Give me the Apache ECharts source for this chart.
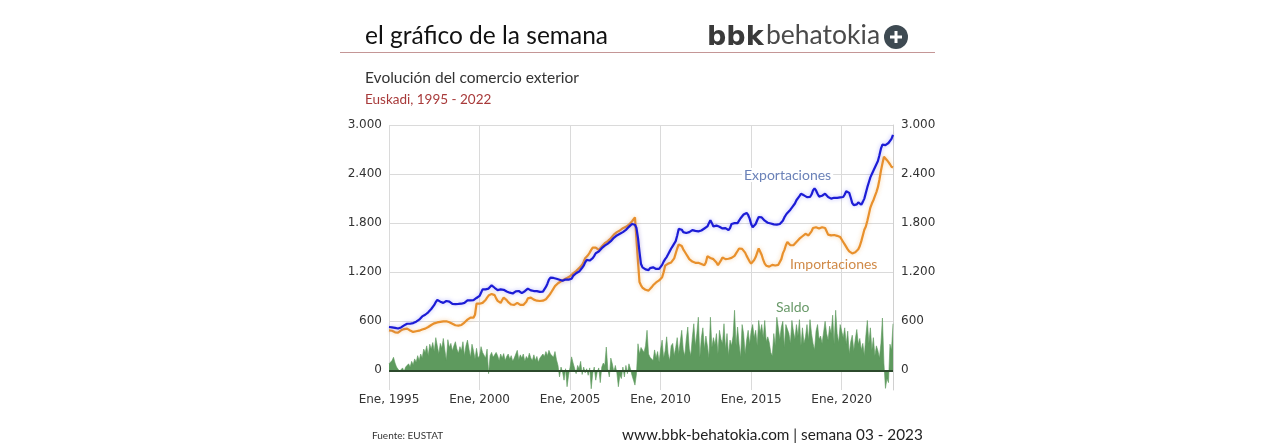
<!DOCTYPE html>
<html>
<head>
<meta charset="utf-8">
<script src="https://cdn.jsdelivr.net/npm/echarts@6/dist/echarts.min.js"></script>
<style>
html,body{margin:0;padding:0;background:#fff;}
#chart{width:1276px;height:447px;}
</style>
</head>
<body>
<div id="chart"></div>
<script>
// ---- Data (monthly, Jan 1995 - Nov 2022, millones €) ----
const years = [1995,1996,1997,1998,1999,2000,2001,2002,2003,2004,2005,2006,2007,2008,2009,2010,2011,2012,2013,2014,2015,2016,2017,2018,2019,2020,2021,2022];
const monthNames = ['Ene','Feb','Mar','Abr','May','Jun','Jul','Ago','Sep','Oct','Nov','Dic'];
const lastYearMonths = 11;

const exportaciones = [
  530,528,525,522,520,515,512,515,525,535,550,565,        // 1995
  570,570,570,572,578,585,595,605,620,640,660,675,        // 1996
  680,695,710,730,750,770,800,835,862,855,840,830,        // 1997
  825,835,848,850,840,825,812,808,810,812,812,815,        // 1998
  815,818,825,840,855,858,855,852,858,870,885,895,        // 1999
  910,950,990,992,990,992,1000,1020,1040,1035,1010,990,   // 2000
  982,985,990,990,985,975,965,958,950,942,940,950,        // 2001
  965,978,970,955,945,950,968,990,1000,990,978,972,       // 2002
  970,970,968,965,960,958,962,985,1020,1060,1110,1135,    // 2003
  1135,1130,1125,1120,1115,1108,1100,1095,1100,1110,1112,1110, // 2004
  1106,1120,1155,1170,1188,1200,1208,1230,1255,1280,1320,1350, // 2005
  1345,1343,1360,1371,1400,1433,1445,1453,1470,1494,1510,1525, // 2006
  1535,1550,1565,1580,1596,1620,1637,1650,1660,1670,1677,1690, // 2007
  1705,1718,1735,1755,1775,1790,1795,1780,1740,1620,1450,1300, // 2008
  1260,1249,1235,1220,1225,1250,1270,1260,1250,1240,1229,1240, // 2009
  1265,1290,1330,1360,1385,1420,1455,1490,1520,1550,1580,1650, // 2010
  1730,1750,1720,1690,1680,1680,1685,1690,1700,1715,1710,1705, // 2011
  1705,1700,1700,1710,1720,1735,1745,1760,1800,1835,1800,1760, // 2012
  1760,1770,1760,1755,1740,1735,1745,1740,1725,1715,1740,1790, // 2013
  1795,1800,1795,1800,1830,1860,1880,1905,1925,1925,1900,1855, // 2014
  1790,1750,1760,1790,1835,1875,1885,1870,1850,1830,1815,1805, // 2015
  1800,1795,1790,1785,1785,1782,1785,1790,1800,1830,1870,1900, // 2016
  1925,1940,1965,1990,2000,2040,2080,2100,2130,2160,2155,2140, // 2017
  2120,2118,2115,2120,2150,2200,2225,2200,2160,2125,2115,2135, // 2018
  2155,2160,2150,2120,2100,2100,2105,2110,2115,2110,2112,2115, // 2019
  2115,2120,2150,2190,2204,2170,2110,2045,2020,2005,2030,2055, // 2020
  2040,2025,2060,2100,2170,2240,2300,2360,2400,2440,2480,2520, // 2021
  2560,2630,2710,2760,2765,2755,2760,2780,2790,2830,2880       // 2022
];

const importaciones = [
  490,488,484,475,465,457,462,475,490,500,505,510,        // 1995
  510,500,488,475,470,472,478,480,485,492,500,505,        // 1996
  510,518,530,542,555,568,575,580,586,590,592,595,        // 1997
  598,600,600,595,588,580,570,560,552,548,548,550,        // 1998
  555,568,585,600,620,640,645,645,645,680,815,815,        // 1999
  815,818,825,835,860,890,915,925,935,940,920,880,        // 2000
  850,830,825,860,890,880,860,835,820,805,795,800,        // 2001
  815,825,815,800,795,800,810,840,880,900,890,875,        // 2002
  865,858,852,850,848,850,852,858,870,890,915,940,        // 2003
  960,1000,1030,1050,1065,1080,1090,1100,1110,1120,1130,1140, // 2004
  1150,1170,1185,1200,1215,1235,1250,1270,1290,1330,1371,1390, // 2005
  1410,1440,1473,1500,1514,1500,1480,1473,1490,1514,1535,1555, // 2006
  1563,1580,1600,1616,1640,1660,1677,1690,1700,1710,1725,1739, // 2007
  1745,1755,1765,1780,1800,1820,1840,1870,1860,1330,1080,1040, // 2008
  1010,1000,985,970,975,995,1015,1040,1060,1075,1090,1100,     // 2009
  1115,1140,1200,1280,1300,1305,1310,1320,1325,1370,1430,1490, // 2010
  1540,1550,1520,1480,1450,1420,1390,1360,1345,1330,1320,1315, // 2011
  1315,1315,1310,1300,1290,1285,1320,1395,1390,1375,1365,1360, // 2012
  1355,1320,1285,1300,1345,1380,1370,1360,1362,1365,1368,1375, // 2013
  1385,1400,1430,1460,1490,1500,1485,1470,1440,1400,1365,1330, // 2014
  1305,1320,1350,1385,1440,1490,1470,1410,1350,1305,1280,1265, // 2015
  1268,1280,1290,1285,1282,1285,1290,1300,1360,1430,1470,1530, // 2016
  1570,1550,1530,1528,1530,1550,1570,1590,1610,1630,1640,1655, // 2017
  1670,1665,1650,1660,1700,1740,1755,1750,1740,1735,1740,1750, // 2018
  1755,1740,1700,1660,1650,1650,1650,1655,1650,1645,1640,1630, // 2019
  1600,1570,1540,1510,1480,1455,1440,1430,1435,1445,1460,1480, // 2020
  1520,1580,1650,1720,1760,1830,1910,1990,2040,2080,2130,2180, // 2021
  2240,2330,2440,2530,2612,2600,2570,2545,2520,2490,2480       // 2022
];

const saldo = [
  80,60,120,160,90,40,20,-10,-20,30,-15,40,               // 1995
  50,80,40,110,70,140,100,180,120,200,150,260,            // 1996
  220,300,180,320,260,340,230,400,300,200,330,270,        // 1997
  390,250,120,375,280,330,240,300,350,260,210,290,        // 1998
  240,350,180,300,370,260,160,320,240,140,270,150,        // 1999
  180,290,220,240,150,260,-40,180,220,160,190,220,        // 2000
  180,120,200,150,205,120,170,200,140,180,110,150,        // 2001
  160,245,130,190,150,200,110,170,140,210,150,120,        // 2002
  190,120,170,100,150,130,200,170,230,180,245,200,        // 2003
  220,160,230,130,60,-80,40,-20,-120,20,-200,-60,         // 2004
  40,165,90,80,-40,60,20,110,-50,40,-30,20,               // 2005
  -60,30,-225,-40,40,-120,-20,30,-150,40,90,60,           // 2006
  285,20,-80,150,80,-20,60,-30,-200,-60,-100,40,          // 2007
  -80,60,-40,80,20,-60,-120,-180,-40,325,200,280,         // 2008
  280,220,300,490,200,160,180,120,250,150,230,100,        // 2009
  260,370,150,240,410,200,120,300,330,180,280,400,        // 2010
  200,350,490,250,180,380,530,260,180,400,570,300,        // 2011
  450,650,160,400,520,260,420,300,150,650,280,400,        // 2012
  310,450,200,490,380,330,570,260,450,180,370,300,        // 2013
  420,735,300,530,320,160,560,450,200,370,490,320,        // 2014
  480,560,400,490,300,610,460,560,400,610,350,410,        // 2015
  340,220,180,450,300,650,520,380,530,600,280,560,        // 2016
  560,450,330,610,480,380,560,420,620,300,520,330,        // 2017
  410,560,370,620,450,330,250,480,560,380,420,330,        // 2018
  330,600,450,370,540,450,675,320,735,450,340,560,        // 2019
  580,400,520,320,480,200,350,430,240,380,500,320,        // 2020
  390,250,330,180,420,610,330,520,250,400,180,300,        // 2021
  240,150,330,640,80,-220,-100,-150,320,250,570           // 2022
];

const yTickLabels = [0,600,1200,1800,2400,3000];
const xLabelYears = [1995,2000,2005,2010,2015,2020];

// ---- Categories ----
const categories = [];
years.forEach((y, i) => {
  const n = (i === years.length - 1) ? lastYearMonths : 12;
  for (let m = 0; m < n; m++) categories.push(monthNames[m] + ', ' + y);
});

const fmt = v => String(v).replace(/\B(?=(\d{3})+(?!\d))/g, '.');
const labelFont = 'DejaVu Sans';
const hidden = 'rgba(0,0,0,0)';

const chart = echarts.init(document.getElementById('chart'), null, {renderer: 'canvas'});
const yAxisBase = {
  type: 'value', min: -240, max: 3000, interval: 120,
  axisTick: {show: false},
  axisLabel: {
    color: '#333', fontFamily: labelFont, fontSize: 12,
    formatter: v => yTickLabels.includes(v) ? fmt(v) : ''
  }
};

chart.setOption({
  backgroundColor: '#fff',
  animation: false,
  grid: {left: 389, right: 383, top: 125, bottom: 57, containLabel: false},
  xAxis: {
    type: 'category', data: categories, boundaryGap: false,
    axisLine: {show: false}, axisTick: {show: false},
    axisLabel: {
      interval: 59, color: '#333', fontFamily: labelFont, fontSize: 12, margin: 4,
      formatter: v => (v.startsWith('Ene') && xLabelYears.includes(+v.slice(5))) ? v : ''
    },
    splitLine: {show: true, interval: 59, lineStyle: {color: '#dadada', width: 1}}
  },
  yAxis: [
    Object.assign({}, yAxisBase, {
      position: 'left', axisLine: {show: false},
      axisLabel: Object.assign({}, yAxisBase.axisLabel, {margin: 7}),
      splitLine: {show: true, lineStyle: {color: [hidden, hidden, '#dadada', hidden, hidden], width: 1}}
    }),
    Object.assign({}, yAxisBase, {
      position: 'right', axisLine: {show: true, lineStyle: {color: '#d0d0d0'}},
      axisLabel: Object.assign({}, yAxisBase.axisLabel, {margin: 8}),
      splitLine: {show: false}
    })
  ],
  series: [
    {
      name: 'Saldo', type: 'line', data: saldo, symbol: 'none', z: 1,
      lineStyle: {width: 0.6, color: '#5e9a5e'},
      areaStyle: {color: '#5e9a5e', opacity: 1},
      markLine: {
        silent: true, symbol: 'none', label: {show: false},
        lineStyle: {color: '#2c4a2c', width: 2, type: 'solid'},
        data: [{yAxis: 0}]
      }
    },
    {
      name: 'Importaciones', type: 'line', data: importaciones, symbol: 'none', z: 3,
      lineStyle: {width: 2.2, color: '#e8902c', shadowColor: 'rgba(240,160,60,0.45)', shadowBlur: 4}
    },
    {
      name: 'Exportaciones', type: 'line', data: exportaciones, symbol: 'none', z: 4,
      lineStyle: {width: 2.2, color: '#1c1cd6', shadowColor: 'rgba(80,80,255,0.4)', shadowBlur: 4}
    }
  ],
  graphic: [
    {type: 'text', left: 365, top: 24, style: {text: 'el gráfico de la semana', font: '24.5px Lato', fill: '#111'}},
    {type: 'text', left: 707, top: 24, style: {text: 'bbk', font: 'bold 27px "DejaVu Sans"', fill: '#3a3a3a'}},
    {type: 'text', left: 766, top: 22, style: {text: 'behatokia', font: '26.5px Lato', fill: '#4a4a4a'}},
    {type: 'circle', shape: {cx: 896, cy: 37, r: 12}, style: {fill: '#3e4a52'}},
    {type: 'rect', shape: {x: 890, y: 35.5, width: 12, height: 3}, style: {fill: '#fff'}},
    {type: 'rect', shape: {x: 894.5, y: 31, width: 3, height: 12}, style: {fill: '#fff'}},
    {type: 'line', shape: {x1: 340, y1: 52.5, x2: 935, y2: 52.5}, style: {stroke: '#c49696', lineWidth: 1.2}},
    {type: 'text', left: 365, top: 70, style: {text: 'Evolución del comercio exterior', font: '15.5px Lato', fill: '#333'}},
    {type: 'text', left: 365, top: 93, style: {text: 'Euskadi, 1995 - 2022', font: '13.5px Lato', fill: '#a83a3a'}},
    {type: 'text', left: 742, top: 168, z: 10, style: {text: 'Exportaciones', font: '14px Lato', fill: '#6b82b8', backgroundColor: '#fff', padding: [0, 2]}},
    {type: 'text', left: 790, top: 257, z: 10, style: {text: 'Importaciones', font: '14px Lato', fill: '#d08a48'}},
    {type: 'text', left: 776, top: 300, z: 10, style: {text: 'Saldo', font: '14px Lato', fill: '#6a9a6a'}},
    {type: 'text', left: 372, top: 431, style: {text: 'Fuente: EUSTAT', font: '10px Lato', fill: '#333'}},
    {type: 'text', left: 622, top: 428, style: {text: 'www.bbk-behatokia.com | semana 03 - 2023', font: '15.3px Lato', fill: '#222'}}
  ]
});
</script>
</body>
</html>
